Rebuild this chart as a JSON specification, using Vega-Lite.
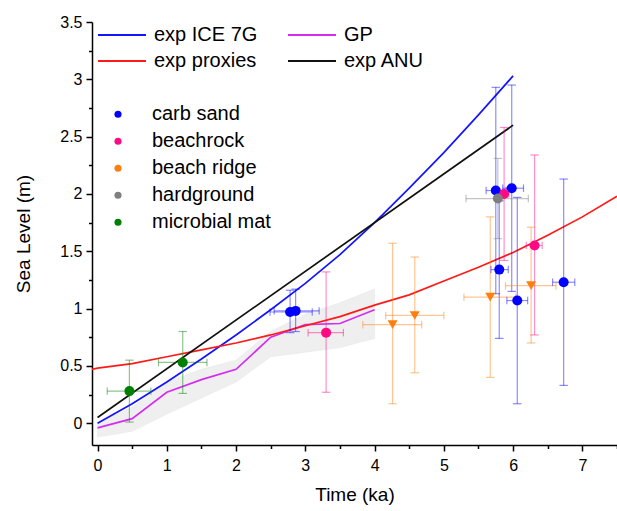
{
  "$schema": "https://vega.github.io/schema/vega-lite/v6.json",
  "width": 525,
  "height": 423,
  "autosize": {"type": "none"},
  "padding": {"left": 92, "top": 22, "right": 0, "bottom": 66},
  "background": "white",
  "config": {
    "view": {"stroke": null},
    "font": "Liberation Sans",
    "axis": {
      "grid": false,
      "domainColor": "black",
      "domainWidth": 1.5,
      "tickColor": "black",
      "tickWidth": 1.5,
      "labelColor": "black",
      "labelFont": "Liberation Sans",
      "labelFontSize": 16,
      "titleFont": "Liberation Sans",
      "titleFontSize": 19,
      "titleFontWeight": "normal",
      "titleColor": "black"
    },
    "legend": {
      "labelFont": "Liberation Sans",
      "labelFontSize": 20,
      "labelColor": "black",
      "padding": 0
    }
  },
  "datasets": {
    "band": [
      {"t": 0, "lo": -0.12, "hi": 0.0},
      {"t": 0.5, "lo": -0.07, "hi": 0.14},
      {"t": 1, "lo": 0.08, "hi": 0.36},
      {"t": 1.5, "lo": 0.22, "hi": 0.47},
      {"t": 2, "lo": 0.36, "hi": 0.55},
      {"t": 2.5, "lo": 0.58, "hi": 0.8},
      {"t": 3, "lo": 0.62, "hi": 0.95},
      {"t": 3.5, "lo": 0.66, "hi": 1.05},
      {"t": 4, "lo": 0.74, "hi": 1.17}
    ],
    "curves": [
      {"series": "exp ICE 7G", "t": 0, "sl": 0.0},
      {"series": "exp ICE 7G", "t": 0.5, "sl": 0.17},
      {"series": "exp ICE 7G", "t": 1, "sl": 0.36},
      {"series": "exp ICE 7G", "t": 1.5, "sl": 0.56},
      {"series": "exp ICE 7G", "t": 2, "sl": 0.77},
      {"series": "exp ICE 7G", "t": 2.5, "sl": 0.99},
      {"series": "exp ICE 7G", "t": 3, "sl": 1.22},
      {"series": "exp ICE 7G", "t": 3.5, "sl": 1.47},
      {"series": "exp ICE 7G", "t": 4, "sl": 1.75},
      {"series": "exp ICE 7G", "t": 4.5, "sl": 2.05},
      {"series": "exp ICE 7G", "t": 5, "sl": 2.36},
      {"series": "exp ICE 7G", "t": 5.5, "sl": 2.69},
      {"series": "exp ICE 7G", "t": 6, "sl": 3.03},
      {"series": "GP", "t": 0, "sl": -0.04},
      {"series": "GP", "t": 0.5, "sl": 0.04},
      {"series": "GP", "t": 1, "sl": 0.27},
      {"series": "GP", "t": 1.5, "sl": 0.38},
      {"series": "GP", "t": 2, "sl": 0.47},
      {"series": "GP", "t": 2.5, "sl": 0.75},
      {"series": "GP", "t": 3, "sl": 0.86},
      {"series": "GP", "t": 3.5, "sl": 0.87},
      {"series": "GP", "t": 4, "sl": 0.99},
      {"series": "exp proxies", "t": -0.08, "sl": 0.47},
      {"series": "exp proxies", "t": 0, "sl": 0.48},
      {"series": "exp proxies", "t": 0.5, "sl": 0.52},
      {"series": "exp proxies", "t": 1, "sl": 0.58},
      {"series": "exp proxies", "t": 1.5, "sl": 0.64},
      {"series": "exp proxies", "t": 2, "sl": 0.7},
      {"series": "exp proxies", "t": 2.5, "sl": 0.77},
      {"series": "exp proxies", "t": 3, "sl": 0.85},
      {"series": "exp proxies", "t": 3.5, "sl": 0.93},
      {"series": "exp proxies", "t": 4, "sl": 1.03},
      {"series": "exp proxies", "t": 4.5, "sl": 1.12},
      {"series": "exp proxies", "t": 5, "sl": 1.24},
      {"series": "exp proxies", "t": 5.5, "sl": 1.36},
      {"series": "exp proxies", "t": 6, "sl": 1.49},
      {"series": "exp proxies", "t": 6.5, "sl": 1.64},
      {"series": "exp proxies", "t": 7, "sl": 1.8},
      {"series": "exp proxies", "t": 7.5, "sl": 1.98},
      {"series": "exp ANU", "t": 0, "sl": 0.05},
      {"series": "exp ANU", "t": 6, "sl": 2.6}
    ],
    "obs": [
      {"type": "carb sand", "t": 2.78, "sl": 0.97, "tlo": 2.49, "thi": 3.1, "slo": 0.79, "shi": 1.16},
      {"type": "carb sand", "t": 2.86, "sl": 0.98, "tlo": 2.55, "thi": 3.2, "slo": 0.8, "shi": 1.17},
      {"type": "carb sand", "t": 5.75, "sl": 2.03, "tlo": 5.61, "thi": 5.9, "slo": 1.13, "shi": 2.93},
      {"type": "carb sand", "t": 5.8, "sl": 1.34, "tlo": 5.68, "thi": 5.93, "slo": 0.74, "shi": 1.94},
      {"type": "carb sand", "t": 5.98, "sl": 2.05, "tlo": 5.85, "thi": 6.15, "slo": 1.15, "shi": 2.95},
      {"type": "carb sand", "t": 6.06, "sl": 1.07, "tlo": 5.91, "thi": 6.21, "slo": 0.17, "shi": 1.97},
      {"type": "carb sand", "t": 6.73, "sl": 1.23, "tlo": 6.57, "thi": 6.89, "slo": 0.33, "shi": 2.13},
      {"type": "beachrock", "t": 3.3, "sl": 0.79, "tlo": 3.04, "thi": 3.55, "slo": 0.27, "shi": 1.32},
      {"type": "beachrock", "t": 5.87, "sl": 2.0, "tlo": 5.8, "thi": 5.94, "slo": 1.42, "shi": 2.58},
      {"type": "beachrock", "t": 6.31, "sl": 1.55, "tlo": 6.19, "thi": 6.42, "slo": 0.77, "shi": 2.34},
      {"type": "beach ridge", "t": 4.26, "sl": 0.86, "tlo": 3.83, "thi": 4.68, "slo": 0.17, "shi": 1.57},
      {"type": "beach ridge", "t": 4.58, "sl": 0.94, "tlo": 4.16, "thi": 5.0, "slo": 0.44, "shi": 1.45},
      {"type": "beach ridge", "t": 5.67, "sl": 1.1, "tlo": 5.29, "thi": 6.04, "slo": 0.4, "shi": 1.8},
      {"type": "beach ridge", "t": 6.26, "sl": 1.2, "tlo": 5.89, "thi": 6.62, "slo": 0.7, "shi": 1.71},
      {"type": "hardground", "t": 5.78, "sl": 1.96, "tlo": 5.32, "thi": 6.22, "slo": 1.61, "shi": 2.31},
      {"type": "microbial mat", "t": 0.46, "sl": 0.28, "tlo": 0.14, "thi": 0.77, "slo": 0.01, "shi": 0.55},
      {"type": "microbial mat", "t": 1.23, "sl": 0.53, "tlo": 0.88, "thi": 1.58, "slo": 0.26, "shi": 0.8}
    ]
  },
  "encoding": {
    "x": {
      "type": "quantitative",
      "scale": {"domain": [-0.08, 7.5], "nice": false, "zero": false},
      "axis": {
        "title": "Time (ka)",
        "values": [0, 0.5, 1, 1.5, 2, 2.5, 3, 3.5, 4, 4.5, 5, 5.5, 6, 6.5, 7, 7.5],
        "format": "~g",
        "labelExpr": "datum.value % 1 === 0 ? datum.label : ''",
        "tickSize": {"condition": {"test": "datum.value % 1 === 0", "value": 6}, "value": 3.5},
        "labelPadding": 6,
        "titlePadding": 12,
        "labelFlush": false,
        "labelOverlap": false
      }
    },
    "y": {
      "type": "quantitative",
      "scale": {"domain": [-0.19, 3.5], "nice": false, "zero": false},
      "axis": {
        "title": "Sea Level (m)",
        "values": [0, 0.25, 0.5, 0.75, 1, 1.25, 1.5, 1.75, 2, 2.25, 2.5, 2.75, 3, 3.25, 3.5],
        "labelExpr": "datum.value % 0.5 === 0 ? datum.label : ''",
        "tickSize": {"condition": {"test": "datum.value % 0.5 === 0", "value": 6}, "value": 3.5},
        "labelPadding": 4,
        "titlePadding": 26,
        "labelFlush": false,
        "labelOverlap": false,
        "format": "~g"
      }
    }
  },
  "layer": [
    {
      "data": {"name": "band"},
      "mark": {"type": "area", "color": "#dcdcdc", "opacity": 0.45, "stroke": "#c8c8c8", "strokeWidth": 0.5},
      "encoding": {
        "x": {"field": "t", "type": "quantitative"},
        "y": {"field": "lo", "type": "quantitative"},
        "y2": {"field": "hi"}
      }
    },
    {
      "data": {"name": "curves"},
      "mark": {"type": "line", "strokeWidth": 1.7},
      "encoding": {
        "x": {"field": "t", "type": "quantitative"},
        "y": {"field": "sl", "type": "quantitative"},
        "color": {
          "field": "series",
          "type": "nominal",
          "scale": {
            "domain": ["exp ICE 7G", "exp proxies", "GP", "exp ANU"],
            "range": ["#1414ff", "#ff1a1a", "#d42cf0", "#111111"]
          },
          "legend": {
            "title": null,
            "orient": "none",
            "legendX": 5,
            "legendY": 0,
            "columns": 2,
            "columnPadding": 29,
            "symbolType": "stroke",
            "symbolSize": 2304,
            "symbolStrokeWidth": 2,
            "clipHeight": 26,
            "rowPadding": 0,
            "labelOffset": 7
          }
        }
      }
    },
    {
      "data": {"name": "obs"},
      "encoding": {
        "stroke": {
          "field": "type",
          "type": "nominal",
          "scale": {
            "domain": ["carb sand", "beachrock", "beach ridge", "hardground", "microbial mat"],
            "range": ["#0000ff", "#ff0a84", "#ff7f0e", "#7f7f7f", "#008000"]
          },
          "legend": null
        }
      },
      "layer": [
        {
          "mark": {"type": "rule", "opacity": 0.45, "strokeWidth": 1.2},
          "encoding": {
            "x": {"field": "t", "type": "quantitative"},
            "y": {"field": "slo", "type": "quantitative"},
            "y2": {"field": "shi"}
          }
        },
        {
          "mark": {"type": "rule", "opacity": 0.45, "strokeWidth": 1.2},
          "encoding": {
            "y": {"field": "sl", "type": "quantitative"},
            "x": {"field": "tlo", "type": "quantitative"},
            "x2": {"field": "thi"}
          }
        },
        {
          "mark": {"type": "point", "shape": "stroke", "size": 72, "opacity": 0.45, "strokeWidth": 1.2},
          "encoding": {
            "x": {"field": "t", "type": "quantitative"},
            "y": {"field": "slo", "type": "quantitative"}
          }
        },
        {
          "mark": {"type": "point", "shape": "stroke", "size": 72, "opacity": 0.45, "strokeWidth": 1.2},
          "encoding": {
            "x": {"field": "t", "type": "quantitative"},
            "y": {"field": "shi", "type": "quantitative"}
          }
        },
        {
          "mark": {"type": "point", "shape": "stroke", "angle": 90, "size": 56, "opacity": 0.45, "strokeWidth": 1.2},
          "encoding": {
            "x": {"field": "tlo", "type": "quantitative"},
            "y": {"field": "sl", "type": "quantitative"}
          }
        },
        {
          "mark": {"type": "point", "shape": "stroke", "angle": 90, "size": 56, "opacity": 0.45, "strokeWidth": 1.2},
          "encoding": {
            "x": {"field": "thi", "type": "quantitative"},
            "y": {"field": "sl", "type": "quantitative"}
          }
        },
        {
          "mark": {"type": "point", "filled": true, "opacity": 1, "strokeWidth": 0},
          "encoding": {
            "x": {"field": "t", "type": "quantitative"},
            "y": {"field": "sl", "type": "quantitative"},
            "stroke": {"value": null},
            "size": {
              "field": "type",
              "type": "nominal",
              "scale": {
                "domain": ["carb sand", "beachrock", "beach ridge", "hardground", "microbial mat"],
                "range": [100, 100, 150, 100, 100]
              },
              "legend": null
            },
            "color": {
              "field": "type",
              "type": "nominal",
              "scale": {
                "domain": ["carb sand", "beachrock", "beach ridge", "hardground", "microbial mat"],
                "range": ["#0000ff", "#ff0a84", "#ff7f0e", "#7f7f7f", "#008000"]
              },
              "legend": {
                "title": null,
                "orient": "none",
                "legendX": 16,
                "legendY": 79,
                "symbolSize": 50,
                "clipHeight": 26.6,
                "rowPadding": 0,
                "labelOffset": 24,
                "encode": {
                  "symbols": {
                    "update": {
                      "shape": {"signal": "datum.value === 'beach ridge' ? 'triangle-down' : 'circle'"},
                      "size": {"signal": "datum.value === 'beach ridge' ? 80 : 50"}
                    }
                  }
                }
              }
            },
            "shape": {
              "field": "type",
              "type": "nominal",
              "scale": {
                "domain": ["carb sand", "beachrock", "beach ridge", "hardground", "microbial mat"],
                "range": ["circle", "circle", "triangle-down", "circle", "circle"]
              },
              "legend": {
                "title": null,
                "orient": "none",
                "legendX": 16,
                "legendY": 79,
                "symbolSize": 50,
                "clipHeight": 26.6,
                "rowPadding": 0,
                "labelOffset": 24,
                "encode": {
                  "symbols": {
                    "update": {
                      "shape": {"signal": "datum.value === 'beach ridge' ? 'triangle-down' : 'circle'"},
                      "size": {"signal": "datum.value === 'beach ridge' ? 80 : 50"}
                    }
                  }
                }
              }
            }
          }
        }
      ]
    }
  ],
  "resolve": {"scale": {"color": "independent"}}
}
